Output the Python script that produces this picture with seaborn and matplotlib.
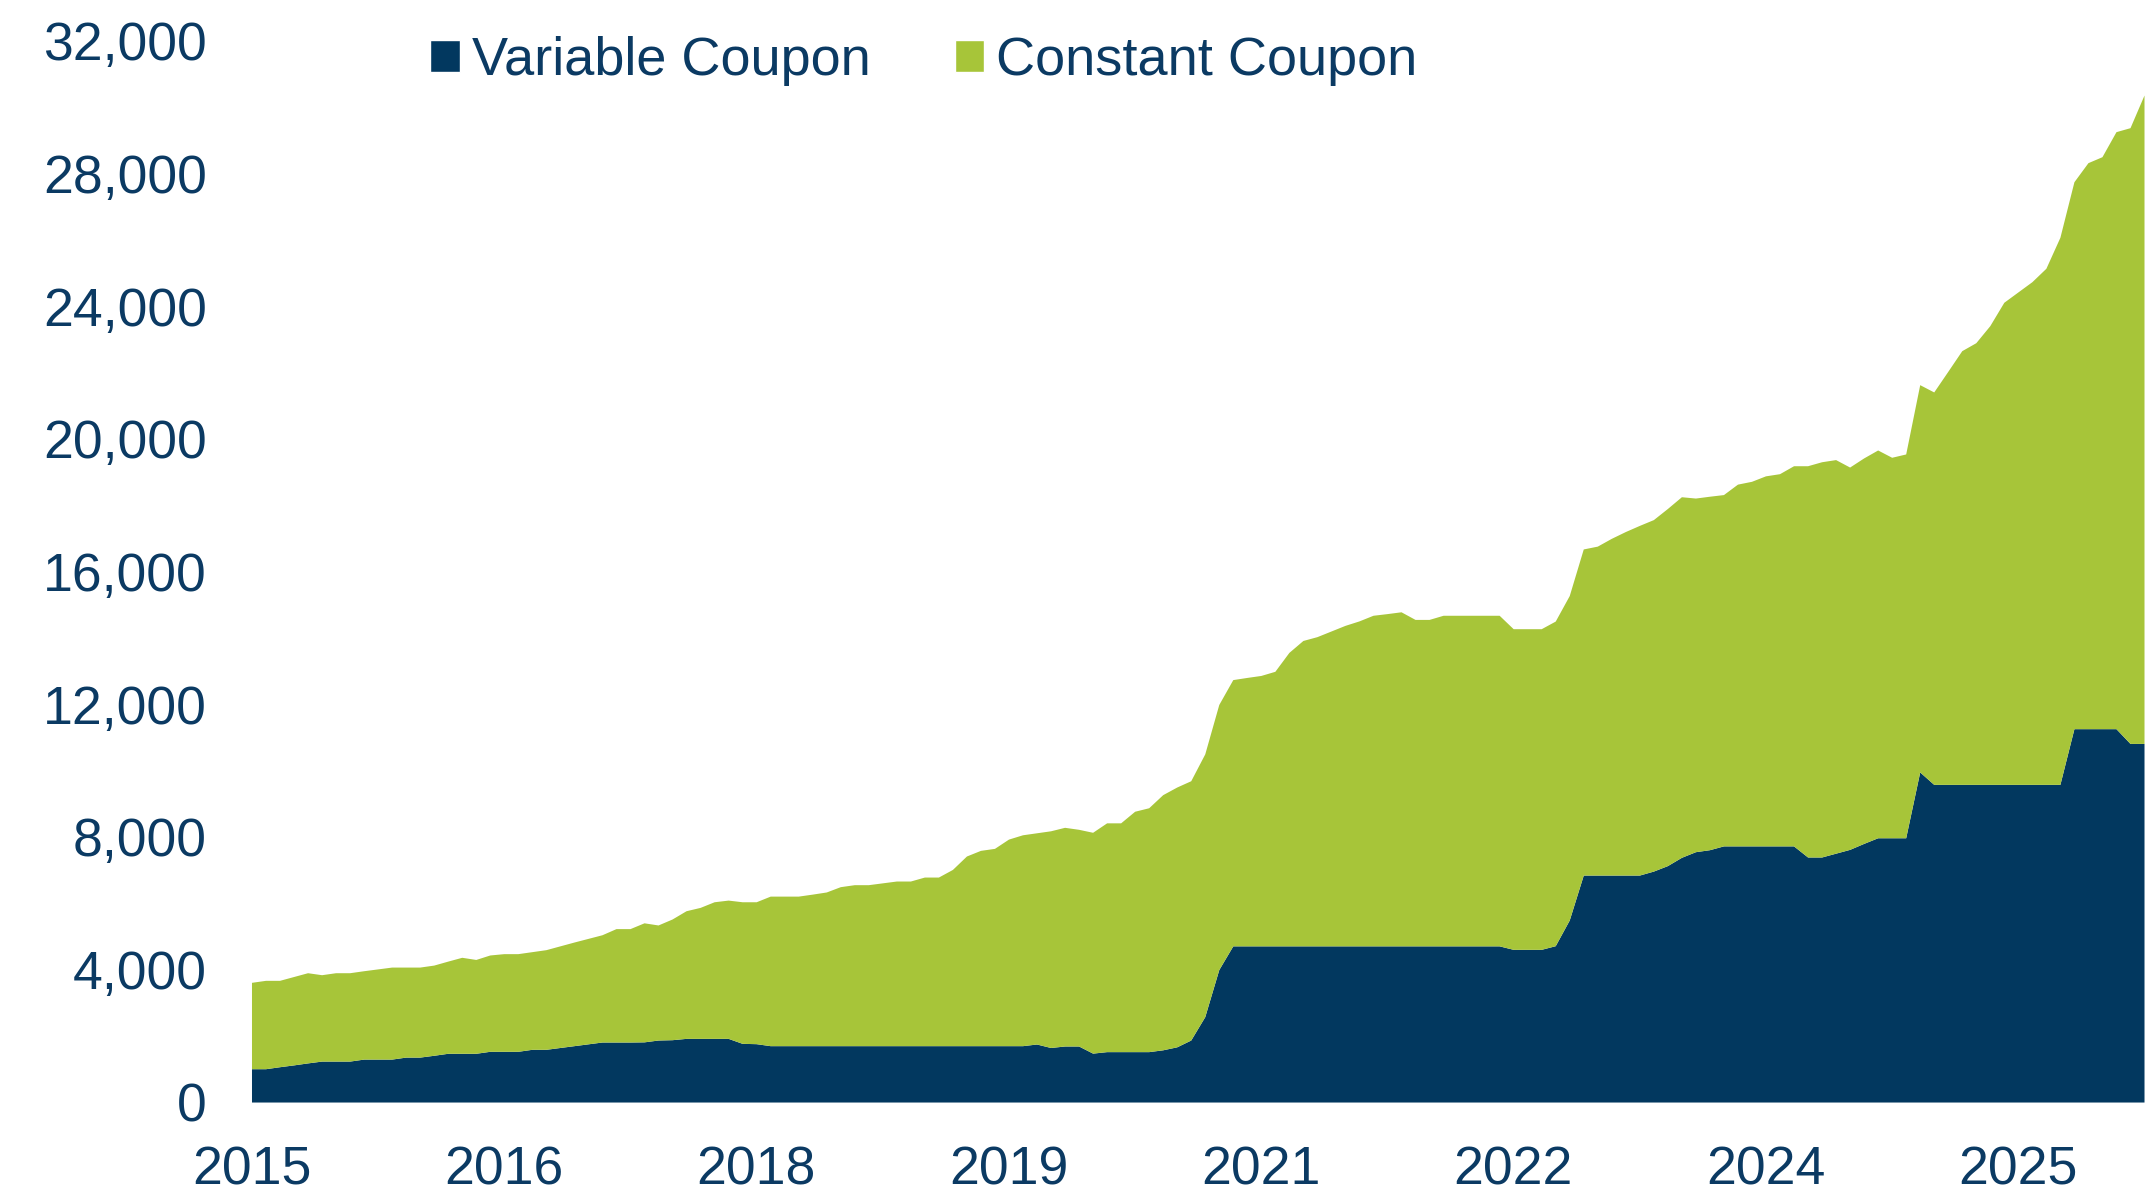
import numpy as np
import pandas as pd
import matplotlib
matplotlib.use("Agg")
import matplotlib.pyplot as plt
import seaborn as sns
from matplotlib.patches import Patch
from matplotlib.ticker import FuncFormatter

# monthly observations, Jan 2015 .. Apr 2026
variable_coupon = [
    1005, 1005, 1065, 1120, 1180, 1235, 1235, 1235, 1295, 1295,
    1295, 1355, 1355, 1410, 1470, 1470, 1470, 1530, 1530, 1530,
    1590, 1590, 1645, 1700, 1755, 1810, 1810, 1810, 1815, 1870,
    1880, 1920, 1920, 1920, 1920, 1770, 1760, 1700, 1700, 1700,
    1700, 1700, 1700, 1700, 1700, 1700, 1700, 1700, 1700, 1700,
    1700, 1700, 1700, 1700, 1700, 1700, 1750, 1645, 1690, 1690,
    1475, 1520, 1520, 1520, 1520, 1575, 1665, 1870, 2575, 3995,
    4710, 4710, 4710, 4710, 4710, 4710, 4710, 4710, 4710, 4710,
    4710, 4710, 4710, 4710, 4710, 4710, 4710, 4710, 4710, 4710,
    4605, 4605, 4605, 4715, 5490, 6845, 6845, 6845, 6845, 6845,
    6965, 7130, 7380, 7550, 7610, 7725, 7725, 7725, 7725, 7725,
    7725, 7390, 7390, 7505, 7620, 7800, 7970, 7970, 7970, 9955,
    9580, 9580, 9580, 9580, 9580, 9580, 9580, 9580, 9580, 9580,
    11260, 11260, 11260, 11260, 10815, 10815,
]

total_outstanding = [
    3610, 3670, 3670, 3785, 3900, 3840, 3900, 3900, 3960, 4015,
    4070, 4070, 4070, 4130, 4250, 4365, 4300, 4435, 4475, 4475,
    4535, 4595, 4710, 4825, 4935, 5045, 5230, 5230, 5405, 5340,
    5520, 5770, 5870, 6040, 6090, 6040, 6040, 6210, 6210, 6210,
    6270, 6335, 6495, 6555, 6555, 6610, 6665, 6665, 6785, 6785,
    7015, 7420, 7590, 7650, 7930, 8060, 8120, 8180, 8285, 8225,
    8135, 8420, 8420, 8770, 8875, 9270, 9500, 9690, 10500, 11990,
    12740, 12805, 12865, 12990, 13560, 13920, 14035, 14205, 14375, 14510,
    14680, 14730, 14785, 14555, 14555, 14680, 14680, 14680, 14680, 14680,
    14275, 14275, 14275, 14505, 15275, 16680, 16765, 17000, 17205, 17390,
    17565, 17900, 18255, 18215, 18270, 18320, 18635, 18720, 18885, 18950,
    19190, 19190, 19310, 19375, 19150, 19425, 19665, 19445, 19545, 21635,
    21415, 22035, 22660, 22900, 23415, 24120, 24430, 24740, 25145, 26080,
    27755, 28330, 28510, 29265, 29385, 30370,
]

tick_positions = [0, 18, 36, 54, 72, 90, 108, 126]
tick_labels = ["2015", "2016", "2018", "2019", "2021", "2022", "2024", "2025"]
y_ticks = [0, 4000, 8000, 12000, 16000, 20000, 24000, 28000, 32000]

df = pd.DataFrame({
    "month": np.arange(len(total_outstanding)),
    "Variable Coupon": variable_coupon,
    "Total": total_outstanding,
})
df["Constant Coupon"] = df["Total"] - df["Variable Coupon"]

navy = "#02385F"
green = "#A7C539"
text_col = "#0B3A63"

sns.set_theme(style="white")
plt.rcParams["font.family"] = ["Liberation Sans", "DejaVu Sans"]

fig = plt.figure(figsize=(21.55, 11.91), dpi=100)
ax = fig.add_axes([0.1167, 0.0747, 0.8782, 0.8909])

ax.stackplot(df["month"], df["Variable Coupon"], df["Constant Coupon"],
             colors=[navy, green], linewidth=0)

ax.set_xlim(0, len(df) - 1)
ax.set_ylim(0, 32000)
ax.set_xticks(tick_positions)
ax.set_xticklabels(tick_labels)
ax.set_yticks(y_ticks)
ax.yaxis.set_major_formatter(FuncFormatter(lambda v, p: f"{int(v):,}"))
ax.tick_params(axis="both", length=0, labelsize=38.5, labelcolor=text_col)
ax.tick_params(axis="y", pad=32)
ax.tick_params(axis="x", pad=31)
sns.despine(ax=ax, left=True, bottom=True)
ax.grid(False)

handles = [Patch(facecolor=navy, label="Variable Coupon"),
           Patch(facecolor=green, label="Constant Coupon")]
fig.legend(handles=handles, loc="center left", bbox_to_anchor=(0.1996, 0.9485),
           ncol=2, frameon=False, fontsize=39, labelcolor=text_col,
           handlelength=0.55, handleheight=0.55, handletextpad=0.22,
           columnspacing=1.55, borderpad=0, borderaxespad=0)

fig.savefig("out.png", dpi=100)
